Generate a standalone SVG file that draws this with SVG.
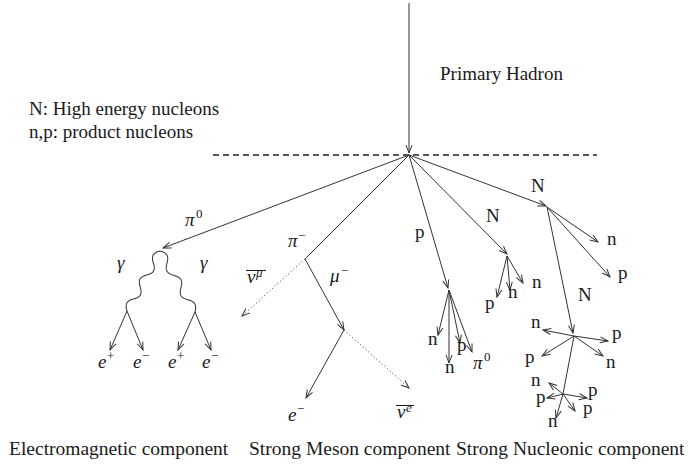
<svg xmlns="http://www.w3.org/2000/svg" width="689" height="468" viewBox="0 0 689 468">
<style>
.ln{stroke:#333;stroke-width:1;fill:none}
.arr{marker-end:url(#ah)}
.dot{stroke:#555;stroke-dasharray:1.2 2.4}
.dash{stroke:#222;stroke-width:1.4;stroke-dasharray:6 4}
text{font-family:'Liberation Serif','DejaVu Serif',serif;font-size:19px;fill:#1a1a1a}
.mi{font-style:italic}
.sup{font-size:13px}
.ov{stroke:#1a1a1a;stroke-width:1}
.big{font-size:19.5px}
</style>
<defs>
<marker id="ah" viewBox="-1 -1 10 8" refX="8" refY="3" markerWidth="10" markerHeight="8" markerUnits="userSpaceOnUse" orient="auto">
<path d="M0,0 L8,3 L0,6" fill="none" stroke="#333" stroke-width="1"/>
</marker>
</defs>
<rect width="689" height="468" fill="#fff"/>
<g id="connectors">
<path class="ln arr" d="M409,3 L409,153"/>
<path class="dash" d="M213,155 L597,155"/>
<path class="ln arr" d="M409,155 L163,248"/>
<path class="ln" transform="translate(160,251) rotate(118.8)" d="M0,0 c4.93,5.33 8.77,5.33 13.7,0 c4.93,-5.33 8.77,-5.33 13.7,0 c4.93,5.33 8.77,5.33 13.7,0 c4.93,-5.33 8.77,-5.33 13.7,0 c4.93,5.33 8.77,5.33 13.7,0"/>
<path class="ln" transform="translate(160,251) rotate(60.2)" d="M0,0 c5.06,-5.33 9,-5.33 14.06,0 c5.06,5.33 9,5.33 14.06,0 c5.06,-5.33 9,-5.33 14.06,0 c5.06,5.33 9,5.33 14.06,0 c5.06,-5.33 9,-5.33 14.06,0"/>
<path class="ln arr" d="M127,311 L110,350"/>
<path class="ln arr" d="M127,311 L143,350"/>
<path class="ln arr" d="M195,312 L178,350"/>
<path class="ln arr" d="M195,312 L211,350"/>
<path class="ln" d="M409,155 L305,259"/>
<path class="ln dot arr" d="M305,259 L242,316"/>
<path class="ln arr" d="M305,259 L344,330"/>
<path class="ln arr" d="M344,330 L306,398"/>
<path class="ln dot arr" d="M344,330 L409,388"/>
<path class="ln arr" d="M409,155 L448,288"/>
<path class="ln arr" d="M449,290 L438,335"/>
<path class="ln arr" d="M449,290 L449,363"/>
<path class="ln arr" d="M449,290 L460,343"/>
<path class="ln arr" d="M449,290 L472,352"/>
<path class="ln arr" d="M409,155 L507,254"/>
<path class="ln arr" d="M507,256 L497,297"/>
<path class="ln arr" d="M507,256 L510,290"/>
<path class="ln arr" d="M507,256 L523,283"/>
<path class="ln arr" d="M409,155 L546,206"/>
<path class="ln arr" d="M547,207 L598,242"/>
<path class="ln arr" d="M547,207 L610,277"/>
<path class="ln arr" d="M547,207 L573,333"/>
<path class="ln arr" d="M574,336 L543,330"/>
<path class="ln arr" d="M574,336 L608,341"/>
<path class="ln arr" d="M574,336 L542,356"/>
<path class="ln arr" d="M574,336 L603,356"/>
<path class="ln" d="M574,336 L563,394"/>
<path class="ln arr" d="M563,394 L549,383"/>
<path class="ln arr" d="M563,394 L547,398"/>
<path class="ln arr" d="M563,394 L587,398"/>
<path class="ln arr" d="M563,394 L575,411"/>
<path class="ln arr" d="M563,394 L556,418"/>
</g>
<g id="primary-hadron"><text x="440" y="80">Primary Hadron</text></g>
<g id="legend">
<text x="29" y="115">N: High energy nucleons</text>
<text x="29" y="138">n,p: product nucleons</text>
</g>
<g id="pi0"><text class="mi" x="185" y="226">π</text><text class="sup" x="196" y="218">0</text></g>
<g id="gamma-left"><text class="mi" x="117" y="269">γ</text></g>
<g id="gamma-right"><text class="mi" x="200" y="269">γ</text></g>
<g id="e-plus-1"><text class="mi" x="98" y="368">e</text><text class="sup" x="107" y="360">+</text></g>
<g id="e-minus-1"><text class="mi" x="133" y="368">e</text><text class="sup" x="142" y="360">−</text></g>
<g id="e-plus-2"><text class="mi" x="168" y="368">e</text><text class="sup" x="177" y="360">+</text></g>
<g id="e-minus-2"><text class="mi" x="202" y="368">e</text><text class="sup" x="211" y="360">−</text></g>
<g id="pi-minus"><text class="mi" x="288" y="247">π</text><text class="sup" x="298" y="240">−</text></g>
<g id="nubar-mu"><text class="mi" x="247" y="283">ν</text><text class="sup mi" x="256" y="277">μ</text><line class="ov" x1="246" y1="270.5" x2="266" y2="270.5"/></g>
<g id="mu-minus"><text class="mi" x="330" y="282">μ</text><text class="sup" x="341" y="275">−</text></g>
<g id="e-minus-3"><text class="mi" x="288" y="421">e</text><text class="sup" x="297" y="413">−</text></g>
<g id="nubar-e"><text class="mi" x="397" y="418">ν</text><text class="sup mi" x="406" y="412">e</text><line class="ov" x1="396" y1="405.5" x2="414" y2="405.5"/></g>
<g id="p-main"><text x="415" y="238">p</text></g>
<g id="p-products">
<text x="428" y="345">n</text>
<text x="457" y="351">p</text>
<text x="445" y="373">n</text>
<text class="mi" x="473" y="369">π</text><text class="sup" x="484" y="361">0</text>
</g>
<g id="N-1"><text x="486" y="222">N</text></g>
<g id="N-1-products">
<text x="485" y="309">p</text>
<text x="508" y="298">n</text>
<text x="532" y="288">n</text>
</g>
<g id="N-2"><text x="531" y="192">N</text></g>
<g id="N-2-products">
<text x="607" y="245">n</text>
<text x="618" y="279">p</text>
</g>
<g id="N-3"><text x="578" y="301">N</text></g>
<g id="N-3-products">
<text x="531" y="328">n</text>
<text x="612" y="339">p</text>
<text x="525" y="363">p</text>
<text x="606" y="368">n</text>
</g>
<g id="N-4-products">
<text x="531" y="386">n</text>
<text x="536" y="403">p</text>
<text x="588" y="396">p</text>
<text x="583" y="414">p</text>
<text x="548" y="427">n</text>
</g>
<g id="em-component"><text class="big" x="9" y="455">Electromagnetic component</text></g>
<g id="meson-component"><text class="big" x="249" y="455">Strong Meson component</text></g>
<g id="nucleonic-component"><text class="big" x="456" y="455">Strong Nucleonic component</text></g>
</svg>
